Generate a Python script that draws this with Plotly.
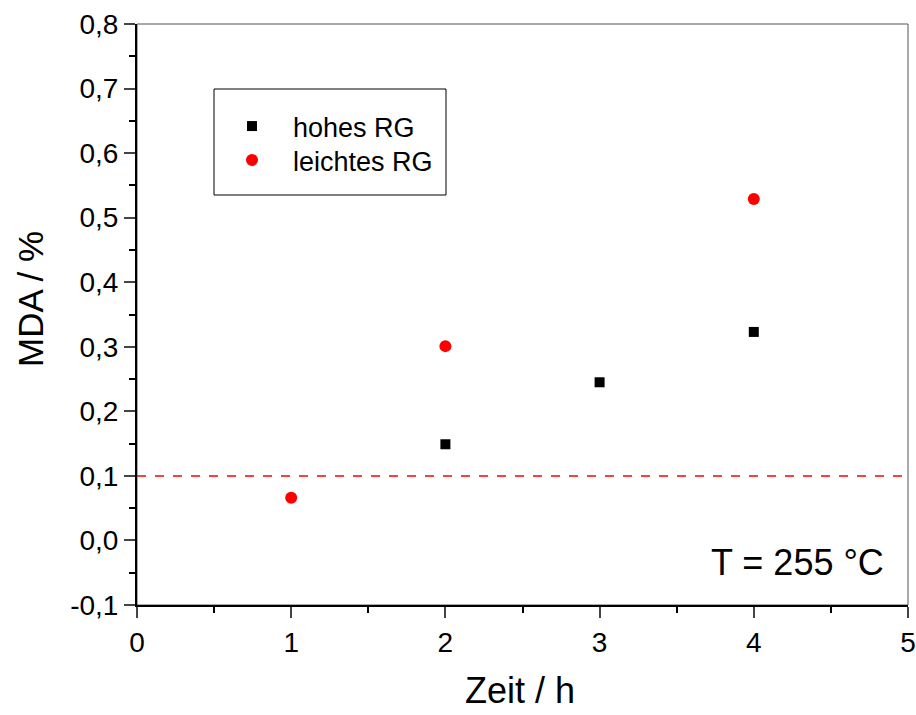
import plotly.graph_objects as go

hohes_x = [2, 3, 4]
hohes_y = [0.149, 0.245, 0.323]
leicht_x = [1, 2, 4]
leicht_y = [0.066, 0.301, 0.529]
limit_y = 0.1
y_ticks = [-0.1, 0.0, 0.1, 0.2, 0.3, 0.4, 0.5, 0.6, 0.7, 0.8]
y_ticklabels = ["-0,1", "0,0", "0,1", "0,2", "0,3", "0,4", "0,5", "0,6", "0,7", "0,8"]
x_ticks = [0, 1, 2, 3, 4, 5]

FONT = "Liberation Sans, Arial, sans-serif"
L, R, T, B = 137, 908, 24, 605
PW, PH = R - L, B - T

def px(x):
    return (x - L) / PW

def py(y):
    return (B - y) / PH

fig = go.Figure()
fig.add_trace(go.Scatter(x=hohes_x, y=hohes_y, mode="markers", name="hohes RG", legend="legend",
                         marker=dict(symbol="square", size=10, color="black")))
fig.add_trace(go.Scatter(x=leicht_x, y=leicht_y, mode="markers", name="leichtes RG", legend="legend2",
                         marker=dict(symbol="circle", size=12, color="red")))

fig.add_shape(type="line", xref="paper", yref="y", x0=0, x1=1, y0=limit_y, y1=limit_y,
              line=dict(color="red", width=1.5, dash="dash"))
fig.add_shape(type="rect", xref="paper", yref="paper", x0=0, x1=1, y0=0, y1=1,
              line=dict(color="#555555", width=1), layer="below")
fig.add_shape(type="rect", xref="paper", yref="paper",
              x0=px(214), x1=px(446), y0=py(195), y1=py(89),
              line=dict(color="black", width=1))

fig.add_annotation(text="T = 255 °C", xref="paper", yref="paper",
                   x=px(886), y=py(562), xanchor="right", yanchor="middle",
                   showarrow=False, font=dict(family=FONT, size=36, color="black"))
fig.add_annotation(text="Zeit / h", xref="paper", yref="paper",
                   x=px(520), y=py(690), xanchor="center", yanchor="middle",
                   showarrow=False, font=dict(family=FONT, size=36, color="black"))
fig.add_annotation(text="MDA / %", xref="paper", yref="paper", textangle=-90,
                   x=px(30), y=py(299), xanchor="center", yanchor="middle",
                   showarrow=False, font=dict(family=FONT, size=35, color="black"))

leg_common = dict(xanchor="left", yanchor="top", bgcolor="rgba(0,0,0,0)",
                  font=dict(family=FONT, size=27), itemwidth=72)

fig.update_layout(
    width=916, height=715,
    margin=dict(l=L, r=916 - R, t=T, b=715 - B),
    plot_bgcolor="white", paper_bgcolor="white",
    font=dict(family=FONT, color="black"),
    showlegend=True,
    legend=dict(x=px(211), y=py(102), **leg_common),
    legend2=dict(x=px(211), y=py(136), **leg_common),
    xaxis=dict(range=[0, 5], tickvals=x_ticks, ticks="outside", ticklen=11, tickwidth=2,
               automargin=False,
               showline=True, linecolor="black", linewidth=2, showgrid=False, zeroline=False,
               tickfont=dict(size=28, family=FONT),
               minor=dict(dtick=0.5, tick0=0, ticks="outside", ticklen=6, tickwidth=2, tickcolor="black")),
    yaxis=dict(range=[-0.1, 0.8], tickvals=y_ticks, ticktext=y_ticklabels, ticks="outside",
               ticklen=11, tickwidth=2, automargin=False, ticklabelstandoff=0,
               showline=True, linecolor="black", linewidth=2, showgrid=False, zeroline=False,
               tickfont=dict(size=28, family=FONT),
               minor=dict(dtick=0.05, tick0=0, ticks="outside", ticklen=6, tickwidth=2, tickcolor="black")),
)

fig.write_html("out.html", config={"displayModeBar": False},
               post_script="document.body.style.margin='0';document.body.style.overflow='hidden';")
